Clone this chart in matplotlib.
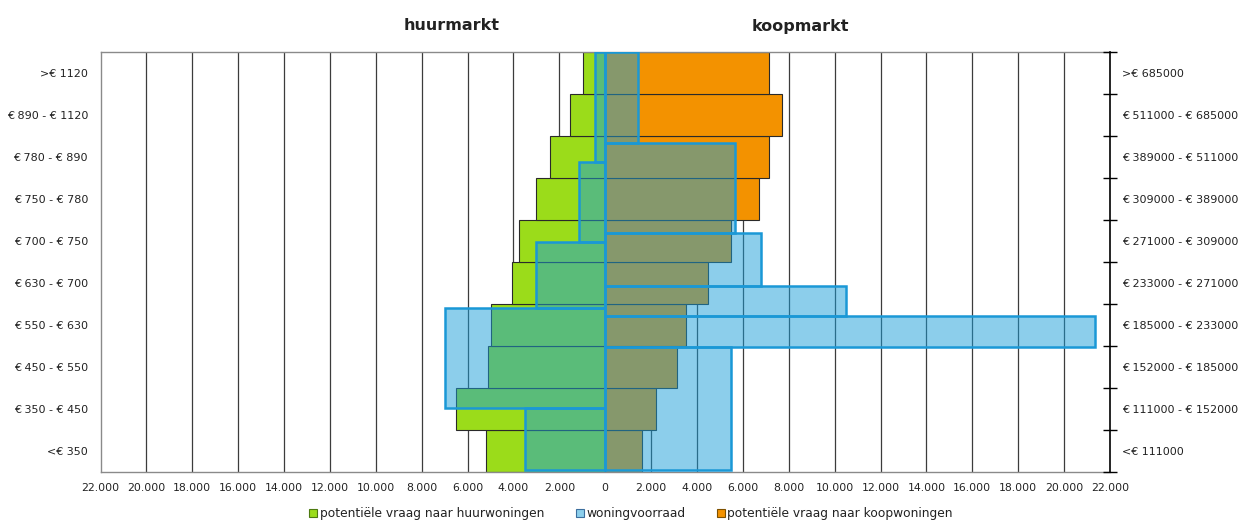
import matplotlib
matplotlib.use("Agg")
import matplotlib.pyplot as plt
from matplotlib.patches import Patch
import numpy as np

# Price classes (bottom to top)
huur_klassen = ["<€ 350", "€ 350 - € 450", "€ 450 - € 550", "€ 550 - € 630",
                "€ 630 - € 700", "€ 700 - € 750", "€ 750 - € 780",
                "€ 780 - € 890", "€ 890 - € 1120", ">€ 1120"]
koop_klassen = ["<€ 111000", "€ 111000 - € 152000", "€ 152000 - € 185000",
                "€ 185000 - € 233000", "€ 233000 - € 271000",
                "€ 271000 - € 309000", "€ 309000 - € 389000",
                "€ 389000 - € 511000", "€ 511000 - € 685000", ">€ 685000"]

# Potential demand per price class
vraag_huur = [5190, 6515, 5090, 5000, 4075, 3770, 3015, 2400, 1530, 980]
vraag_koop = [1600, 2230, 3130, 3510, 4480, 5490, 6700, 7140, 7720, 7140]

# Housing stock, on its own class boundaries (expressed on the class scale)
voorraad_huur_grenzen = [0.05, 1.53, 3.90, 5.48, 7.39, 10.0]
voorraad_huur = [3500, 7000, 3000, 1150, 450]
voorraad_koop_grenzen = [0.05, 2.98, 3.72, 4.44, 5.70, 7.84, 10.0]
voorraad_koop = [5470, 21330, 10480, 6780, 5650, 1420]

x_ticks = list(range(-22000, 22001, 2000))

GREEN = "#9bdc1a"
ORANGE = "#f39200"
BLUE_FILL = (0.10, 0.62, 0.85, 0.5)
BLUE_EDGE = "#1a98d6"
TXT = "#222222"

plt.rcParams["font.family"] = ["DejaVu Sans"]

fig = plt.figure(figsize=(12.46, 5.22), dpi=100)
W, H = 1246, 522
ax = fig.add_axes([100.5 / W, (H - 472) / H, (1110 - 100.5) / W, (472 - 52.3) / H])

n = len(huur_klassen)
centers = np.arange(n) + 0.5

# Vertical gridlines
for xv in x_ticks[1:-1]:
    ax.axvline(xv, color="#3c3c3c", lw=0.9, zorder=0)

# Demand bars
ax.barh(centers, -np.array(vraag_huur), height=1.0, color=GREEN,
        edgecolor="#2a2a2a", linewidth=0.8, zorder=2)
ax.barh(centers, vraag_koop, height=1.0, color=ORANGE,
        edgecolor="#2a2a2a", linewidth=0.8, zorder=2)

# Housing stock bars (translucent overlay)
def stock(grenzen, waarden, sign):
    g = np.array(grenzen)
    mid = (g[:-1] + g[1:]) / 2
    hgt = g[1:] - g[:-1]
    ax.barh(mid, sign * np.array(waarden), height=hgt, color=BLUE_FILL,
            edgecolor=BLUE_EDGE, linewidth=1.8, zorder=3)

stock(voorraad_huur_grenzen, voorraad_huur, -1)
stock(voorraad_koop_grenzen, voorraad_koop, 1)

ax.set_xlim(-22000, 22000)
ax.set_ylim(0, n)

ax.set_xticks(x_ticks)
ax.set_xticklabels([f"{abs(v):,}".replace(",", ".") for v in x_ticks],
                   fontsize=7.8, color=TXT)
ax.tick_params(axis="x", length=0, pad=8)

ax.set_yticks(centers)
ax.set_yticklabels(huur_klassen, fontsize=8, color=TXT)
ax.tick_params(axis="y", length=0, pad=9)

for s in ["left", "top", "bottom"]:
    ax.spines[s].set_color("#8a8a8a")
    ax.spines[s].set_linewidth(1.0)
ax.spines["right"].set_visible(False)

# Right-hand axis with class boundaries
ax2 = ax.twinx()
ax2.set_ylim(0, n)
ax2.set_yticks(np.arange(n + 1))
ax2.set_yticklabels([""] * (n + 1))
ax2.tick_params(axis="y", which="major", direction="inout", length=10,
                width=1.0, color="black")
ax2.set_yticks(centers, minor=True)
ax2.set_yticklabels(koop_klassen, minor=True, fontsize=8, color=TXT)
ax2.tick_params(axis="y", which="minor", length=0, pad=9)
for s in ["left", "top", "bottom"]:
    ax2.spines[s].set_visible(False)
ax2.spines["right"].set_color("black")
ax2.spines["right"].set_linewidth(1.2)

# Market titles
fig.text(452 / W, 1 - 26 / H, "huurmarkt", ha="center", va="center",
         fontsize=11.5, fontweight="bold", color=TXT)
fig.text(800 / W, 1 - 26 / H, "koopmarkt", ha="center", va="center",
         fontsize=11.5, fontweight="bold", color=TXT)

handles = [
    Patch(facecolor=GREEN, edgecolor="#4d7a10", linewidth=0.8),
    Patch(facecolor="#8ccfec", edgecolor="#3c6e9e", linewidth=0.8),
    Patch(facecolor=ORANGE, edgecolor="#7d5000", linewidth=0.8),
]
labels = ["potentiële vraag naar huurwoningen", "woningvoorraad",
          "potentiële vraag naar koopwoningen"]
fig.legend(handles, labels, loc="center", bbox_to_anchor=(631 / W, 1 - 514 / H),
           ncol=3, frameon=False, fontsize=8.8, handlelength=0.65,
           handleheight=0.65, handletextpad=0.2, columnspacing=2.6,
           labelcolor=TXT)

fig.savefig("out.png", dpi=100)
